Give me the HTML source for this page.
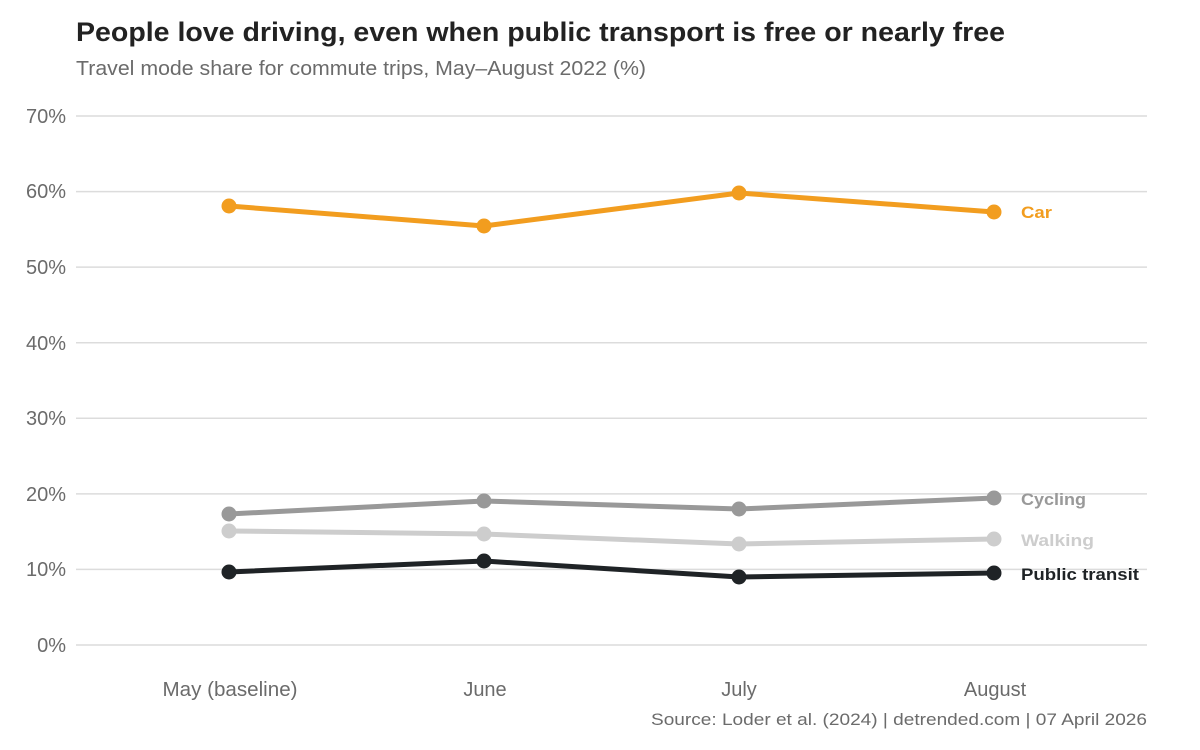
<!DOCTYPE html>
<html><head><meta charset="utf-8"><style>
body{margin:0;background:#fff;}
svg{display:block;font-family:"Liberation Sans",sans-serif;}
</style></head><body>
<svg width="1200" height="750" viewBox="0 0 1200 750">
<rect width="1200" height="750" fill="#fff"/>
<text x="76" y="41" font-size="27" font-weight="bold" fill="#222" textLength="929" lengthAdjust="spacingAndGlyphs">People love driving, even when public transport is free or nearly free</text>
<text x="76" y="75" font-size="20" fill="#6b6b6b" textLength="570" lengthAdjust="spacingAndGlyphs">Travel mode share for commute trips, May–August 2022 (%)</text>
<g stroke="#dcdcdc" stroke-width="1.5">
<line x1="76" x2="1147" y1="116" y2="116"/><line x1="76" x2="1147" y1="191.6" y2="191.6"/>
<line x1="76" x2="1147" y1="267.1" y2="267.1"/><line x1="76" x2="1147" y1="342.7" y2="342.7"/>
<line x1="76" x2="1147" y1="418.3" y2="418.3"/><line x1="76" x2="1147" y1="493.9" y2="493.9"/>
<line x1="76" x2="1147" y1="569.4" y2="569.4"/><line x1="76" x2="1147" y1="645" y2="645"/>
</g>
<g font-size="20" fill="#6b6b6b" text-anchor="end">
<text x="66" y="123">70%</text><text x="66" y="198">60%</text><text x="66" y="274">50%</text>
<text x="66" y="350">40%</text><text x="66" y="425">30%</text><text x="66" y="501">20%</text>
<text x="66" y="576">10%</text><text x="66" y="652">0%</text>
</g>
<g font-size="20" fill="#6b6b6b" text-anchor="middle">
<text x="230" y="696" textLength="135" lengthAdjust="spacingAndGlyphs">May (baseline)</text><text x="485" y="696">June</text>
<text x="739" y="696">July</text><text x="995" y="696">August</text>
</g>
<g fill="none" stroke-width="5" stroke-linejoin="round">
<polyline stroke="#f29d1f" points="229,206 484,226 739,193 994,212"/>
<polyline stroke="#999" points="229,514 484,501 739,509 994,498"/>
<polyline stroke="#cdcdcd" points="229,531 484,534 739,544 994,539"/>
<polyline stroke="#1f2326" points="229,572 484,561 739,577 994,573"/>
</g>
<g fill="#f29d1f"><circle cx="229" cy="206" r="7.5"/><circle cx="484" cy="226" r="7.5"/><circle cx="739" cy="193" r="7.5"/><circle cx="994" cy="212" r="7.5"/></g>
<g fill="#999"><circle cx="229" cy="514" r="7.5"/><circle cx="484" cy="501" r="7.5"/><circle cx="739" cy="509" r="7.5"/><circle cx="994" cy="498" r="7.5"/></g>
<g fill="#cdcdcd"><circle cx="229" cy="531" r="7.5"/><circle cx="484" cy="534" r="7.5"/><circle cx="739" cy="544" r="7.5"/><circle cx="994" cy="539" r="7.5"/></g>
<g fill="#1f2326"><circle cx="229" cy="572" r="7.5"/><circle cx="484" cy="561" r="7.5"/><circle cx="739" cy="577" r="7.5"/><circle cx="994" cy="573" r="7.5"/></g>
<g font-size="17" font-weight="bold">
<text x="1021" y="218" fill="#f29d1f" textLength="31" lengthAdjust="spacingAndGlyphs">Car</text>
<text x="1021" y="505" fill="#999" textLength="65" lengthAdjust="spacingAndGlyphs">Cycling</text>
<text x="1021" y="546" fill="#cdcdcd" textLength="73" lengthAdjust="spacingAndGlyphs">Walking</text>
<text x="1021" y="580" fill="#1f2326" textLength="118" lengthAdjust="spacingAndGlyphs">Public transit</text>
</g>
<text x="1147" y="725" font-size="17" fill="#6b6b6b" text-anchor="end" textLength="496" lengthAdjust="spacingAndGlyphs">Source: Loder et al. (2024) | detrended.com | 07 April 2026</text>
</svg>
</body></html>
